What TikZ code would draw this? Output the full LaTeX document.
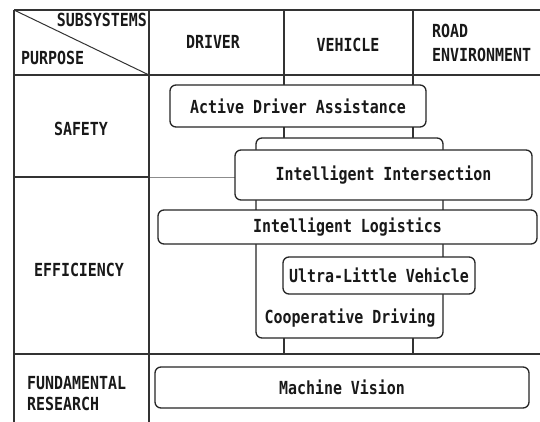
\documentclass[tikz,border=0pt]{standalone}
\usepackage{fontspec}
\newfontfamily\chartfont[FakeStretch=0.83]{DejaVu Sans Mono}
\begin{document}
\begin{tikzpicture}[x=1pt,y=-1pt,
  every node/.style={font=\chartfont\bfseries\fontsize{18}{21}\selectfont, text=black!90},
  rule/.style={line width=1.3pt, draw=black!80},
  thinrule/.style={line width=0.6pt, draw=black!45},
  box/.style={draw=black!85, line width=1.3pt, rounded corners=6pt, fill=white, inner sep=0pt},
  lbl/.style={inner sep=0pt, anchor=center},
  hdr/.style={inner sep=0pt, anchor=west, align=left}]
\useasboundingbox (0,0) rectangle (540,422);
\fill[white] (0,0) rectangle (540,422);

% table grid
\draw[rule] (14,177) -- (149,177);
\draw[thinrule] (149,177) -- (240,177);
\draw[rule] (14,10) -- (540,10);
\draw[rule] (14,75) -- (540,75);
\draw[rule] (14,354) -- (540,354);
\draw[rule] (14,10) -- (14,422);
\draw[rule] (149,10) -- (149,422);
\draw[rule] (284,10) -- (284,354);
\draw[rule] (413,10) -- (413,354);
\draw[line width=1pt, draw=black!80] (14,10) -- (149,75);

% header labels
\node[lbl, anchor=east] (sub) at (147,20) {SUBSYSTEMS};
\node[lbl, anchor=west] (pur) at (21,58) {PURPOSE};
\node[lbl] (drv) at (213,42) {DRIVER};
\node[lbl] (veh) at (348,45) {VEHICLE};
\node[hdr] (road) at (432,31) {ROAD};
\node[hdr] (env) at (432,55) {ENVIRONMENT};

% row labels
\node[lbl] (saf) at (81,129) {SAFETY};
\node[lbl] (eff) at (79,270) {EFFICIENCY};
\node[lbl, anchor=west] (fun) at (27,383) {FUNDAMENTAL};
\node[lbl, anchor=west] (res) at (27,404) {RESEARCH};

% project boxes
\node[box, minimum width=187pt, minimum height=200pt] (coop) at (349.5,238) {};
\node[lbl] (cooptext) at (350,318) {Cooperative Driving};
\node[box, minimum width=256pt, minimum height=42pt] (ada) at (298,106) {Active Driver Assistance};
\node[box, minimum width=297pt, minimum height=50pt] (inter) at (383.5,175) {Intelligent Intersection};
\node[box, minimum width=379pt, minimum height=34pt] (logi) at (347.5,227) {Intelligent Logistics};
\node[box, minimum width=192pt, minimum height=37pt] (ulv) at (379,275.5) {Ultra-Little Vehicle};
\node[box, minimum width=374pt, minimum height=41pt] (mv) at (342,387.5) {Machine Vision};
\end{tikzpicture}
\end{document}
